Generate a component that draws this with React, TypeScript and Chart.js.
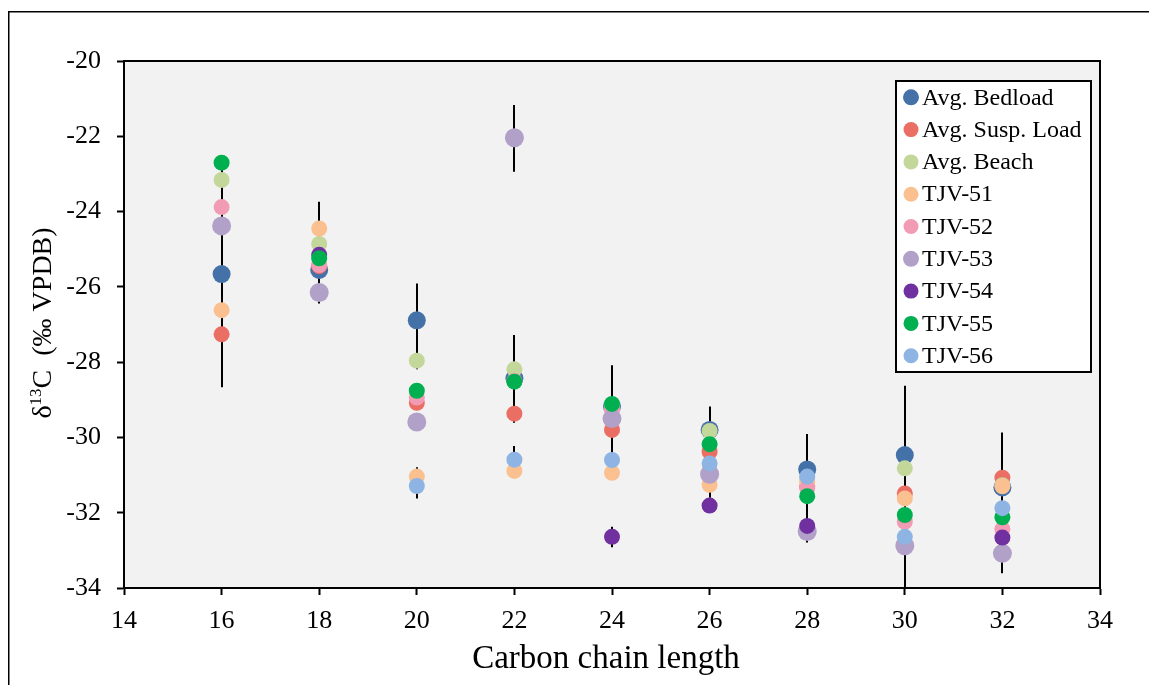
import React, { useEffect, useRef } from "react";
import { Chart, registerables } from "chart.js";

Chart.register(...registerables);

const chainLengths = [16, 18, 20, 22, 24, 26, 28, 30, 32];

const avgBedload = [-25.66, -25.55, -26.89, -28.43, -29.18, -29.8, -30.85, -30.47, -31.33];
const avgSuspLoad = [-27.26, -25.45, -29.08, -29.37, -29.8, -30.38, -31.3, -31.49, -31.07];
const avgBeach = [-23.16, -24.86, -27.96, -28.19, -29.15, -29.83, -31.1, -30.82, -31.27];
const tjv51 = [-26.62, -24.45, -31.04, -30.89, -30.94, -31.26, -31.2, -31.62, -31.3];
const tjv52 = [-23.88, -25.42, -28.94, -28.5, -29.27, -30.9, -31.35, -32.24, -32.44];
const tjv53 = [-24.38, -26.15, -29.59, -22.04, -29.5, -30.98, -32.5, -32.88, -33.08];
const tjv54 = [null, -25.15, null, null, -32.64, -31.81, -32.35, null, -32.66];
const tjv55 = [-22.7, -25.24, -28.76, -28.52, -29.11, -30.18, -31.56, -32.06, -32.12];
const tjv56 = [null, null, -31.29, -30.59, -30.6, -30.69, -31.04, -32.64, -31.88];

const seriesNames = [
  "Avg. Bedload",
  "Avg. Susp. Load",
  "Avg. Beach",
  "TJV-51",
  "TJV-52",
  "TJV-53",
  "TJV-54",
  "TJV-55",
  "TJV-56",
];
const seriesValues = [avgBedload, avgSuspLoad, avgBeach, tjv51, tjv52, tjv53, tjv54, tjv55, tjv56];
const seriesColors = [
  "#4371A8",
  "#EB6E64",
  "#C4D79B",
  "#FAC090",
  "#F19BB5",
  "#B1A0C7",
  "#7030A0",
  "#00B050",
  "#8DB4E2",
];
const seriesRadius = [9, 8, 8, 8, 8, 9.5, 8, 8, 8];

// error bar segments (x, low, high)
const errX = [16, 18, 20, 20, 22, 22, 22, 24, 24, 26, 28, 30, 32];
const errLow = [-28.67, -26.44, -28.19, -31.62, -29.61, -30.95, -22.94, -30.9, -32.92, -31.6, -32.79, -34.6, -33.61];
const errHigh = [-22.65, -23.74, -25.91, -30.79, -27.28, -30.23, -21.17, -28.08, -32.37, -29.18, -29.91, -28.63, -29.87];

const xTicks = [14, 16, 18, 20, 22, 24, 26, 28, 30, 32, 34];
const yTicks = [-34, -32, -30, -28, -26, -24, -22, -20];

const FONT = "'Liberation Serif', 'Times New Roman', serif";

const customPlugin = {
  id: "customDraw",
  beforeDraw(chart: any) {
    const ctx = chart.ctx;
    const { left, top, right, bottom } = chart.chartArea;
    ctx.save();
    ctx.fillStyle = "#ffffff";
    ctx.fillRect(0, 0, chart.width, chart.height);
    ctx.strokeStyle = "#000";
    ctx.lineWidth = 1.5;
    ctx.strokeRect(8.75, 11.75, chart.width + 20, chart.height + 20);
    ctx.fillStyle = "#F2F2F2";
    ctx.fillRect(left, top, right - left, bottom - top);
    ctx.restore();
  },
  beforeDatasetsDraw(chart: any) {
    const ctx = chart.ctx;
    const xs = chart.scales.x;
    const ys = chart.scales.y;
    const { left, top, right, bottom } = chart.chartArea;
    ctx.save();
    ctx.beginPath();
    ctx.rect(left, top, right - left, bottom - top);
    ctx.clip();
    ctx.strokeStyle = "#000";
    ctx.lineWidth = 2;
    for (let i = 0; i < errX.length; i++) {
      const x = Math.round(xs.getPixelForValue(errX[i]));
      ctx.beginPath();
      ctx.moveTo(x, ys.getPixelForValue(errHigh[i]));
      ctx.lineTo(x, ys.getPixelForValue(errLow[i]));
      ctx.stroke();
    }
    ctx.restore();
  },
  afterDraw(chart: any) {
    const ctx = chart.ctx;
    const { left, top, right, bottom } = chart.chartArea;
    ctx.save();
    // plot border top/right
    ctx.strokeStyle = "#000";
    ctx.lineWidth = 2;
    ctx.beginPath();
    ctx.moveTo(left, top);
    ctx.lineTo(right, top);
    ctx.lineTo(right, bottom);
    ctx.stroke();

    // legend
    const lx = 896, ly = 81, lw = 195, lh = 291;
    ctx.fillStyle = "#fff";
    ctx.fillRect(lx, ly, lw, lh);
    ctx.lineWidth = 2;
    ctx.strokeRect(lx, ly, lw, lh);
    ctx.font = `24px ${FONT}`;
    ctx.textBaseline = "middle";
    ctx.textAlign = "left";
    chart.data.datasets.forEach((ds: any, i: number) => {
      const cy = 97.3 + i * 32.3;
      ctx.fillStyle = ds.backgroundColor;
      ctx.beginPath();
      ctx.arc(911, cy, i === 0 || i === 5 ? 8 : 7.5, 0, Math.PI * 2);
      ctx.fill();
      ctx.fillStyle = "#000";
      ctx.fillText(ds.label, 922, cy + 1);
    });

    // x title
    ctx.font = `33px ${FONT}`;
    ctx.textAlign = "center";
    ctx.textBaseline = "alphabetic";
    ctx.fillStyle = "#000";
    ctx.fillText("Carbon chain length", 606, 668);

    // y title (rotated) with superscript
    const parts = [
      { t: "δ", size: 28, dy: 0 },
      { t: "13", size: 17, dy: -10 },
      { t: "C  (‰ VPDB)", size: 28, dy: 0 },
    ];
    let total = 0;
    const widths = parts.map((p) => {
      ctx.font = `${p.size}px ${FONT}`;
      const w = ctx.measureText(p.t).width;
      total += w;
      return w;
    });
    ctx.translate(51, 323);
    ctx.rotate(-Math.PI / 2);
    ctx.textAlign = "left";
    let px = -total / 2;
    parts.forEach((p, i) => {
      ctx.font = `${p.size}px ${FONT}`;
      ctx.fillText(p.t, px, p.dy);
      px += widths[i];
    });
    ctx.restore();
  },
};

export default function App() {
  const canvasRef = useRef<HTMLCanvasElement | null>(null);

  useEffect(() => {
    document.body.style.margin = "0";
    document.body.style.overflow = "hidden";
    const canvas = canvasRef.current;
    if (!canvas) return;
    const datasets = seriesNames.map((name, i) => ({
      label: name,
      data: chainLengths.map((x, j) => ({ x, y: seriesValues[i][j] })),
      backgroundColor: seriesColors[i],
      borderColor: seriesColors[i],
      borderWidth: 0,
      pointRadius: seriesRadius[i],
      pointHoverRadius: seriesRadius[i],
      showLine: false,
      order: seriesNames.length - 1 - i,
    }));
    const chart = new Chart(canvas, {
      type: "scatter",
      data: { datasets },
      options: {
        animation: false,
        responsive: false,
        devicePixelRatio: 1,
        events: [],
        layout: { padding: { left: 0, top: 61, right: 49, bottom: 0 } },
        plugins: {
          legend: { display: false },
          tooltip: { enabled: false },
        },
        scales: {
          x: {
            type: "linear",
            min: 14,
            max: 34,
            afterFit: (s: any) => {
              s.height = 97;
            },
            afterBuildTicks: (s: any) => {
              s.ticks = xTicks.map((v) => ({ value: v }));
            },
            ticks: {
              color: "#000",
              font: { family: FONT, size: 26 },
              padding: 11,
              maxRotation: 0,
            },
            grid: {
              drawOnChartArea: false,
              drawTicks: true,
              tickLength: 7,
              tickColor: "#000",
              tickWidth: 2,
            },
            border: { color: "#000", width: 2 },
          },
          y: {
            type: "linear",
            min: -34,
            max: -20,
            afterFit: (s: any) => {
              s.width = 124;
            },
            afterBuildTicks: (s: any) => {
              s.ticks = yTicks.map((v) => ({ value: v }));
            },
            ticks: {
              color: "#000",
              font: { family: FONT, size: 26 },
              padding: 16,
            },
            grid: {
              drawOnChartArea: false,
              drawTicks: true,
              tickLength: 7,
              tickColor: "#000",
              tickWidth: 2,
            },
            border: { color: "#000", width: 2 },
          },
        },
      },
      plugins: [customPlugin],
    } as any);
    return () => chart.destroy();
  }, []);

  return (
    <div style={{ width: 1149, height: 685, position: "relative" }}>
      <canvas ref={canvasRef} width={1149} height={685} style={{ display: "block" }} />
    </div>
  );
}
